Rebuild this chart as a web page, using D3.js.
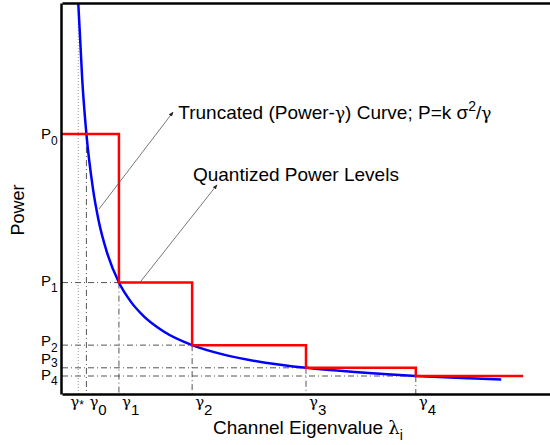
<!DOCTYPE html>
<html>
<head>
<meta charset="utf-8">
<script src="https://cdn.jsdelivr.net/npm/d3@7"></script>
<style>
  body { margin: 0; background: #fff; }
  svg { display: block; font-family: "Liberation Sans", Arial, sans-serif; }
  .greek { font-family: "DejaVu Serif", serif; }
</style>
</head>
<body>
<svg id="chart" width="550" height="445"></svg>
<script>
// threshold eigenvalues gamma_0..gamma_4 (x units)
const gammaNames = ["0", "1", "2", "3", "4"];
const gammas = [0.30, 0.70, 1.60, 3.00, 4.35];
const gammaStar = 0.20;
// quantized power levels P_0..P_4
const powerLevels = [6.65, 2.85, 1.25, 0.67, 0.46];
const stepEnd = 5.67;
const curveX = [0.20, 0.25, 0.30, 0.38, 0.45, 0.55, 0.70, 0.85, 1.00, 1.25, 1.60, 2.00, 2.50, 3.00, 3.60, 4.35, 5.00, 5.40];
const curveP = [10.0, 8.0, 6.65, 5.26, 4.44, 3.64, 2.85, 2.35, 2.00, 1.60, 1.25, 1.00, 0.80, 0.67, 0.56, 0.46, 0.40, 0.37];

const svg = d3.select("#chart");
const x = d3.scaleLinear().domain([0, 6]).range([62, 550]);
const y = d3.scaleLinear().domain([0, 10]).range([394, 3]);

const dashDot = "6,3,1,3";
const guide = svg.append("g").attr("stroke", "#555").attr("stroke-width", 1).attr("fill", "none");

// gamma* dotted line, full height
guide.append("line")
  .attr("x1", x(gammaStar)).attr("x2", x(gammaStar))
  .attr("y1", y(10)).attr("y2", y(0))
  .attr("stroke", "#999").attr("stroke-dasharray", "1,2");

// vertical dash-dot guides from each level down to the axis
gammas.forEach((g, i) => {
  guide.append("line")
    .attr("x1", x(g)).attr("x2", x(g))
    .attr("y1", y(powerLevels[i])).attr("y2", y(0))
    .attr("stroke-dasharray", dashDot);
});
// horizontal dash-dot guides from the axis to each gamma
powerLevels.forEach((p, i) => {
  if (i === 0) return;
  guide.append("line")
    .attr("x1", x(0)).attr("x2", x(gammas[i]))
    .attr("y1", y(p)).attr("y2", y(p))
    .attr("stroke-dasharray", dashDot);
});

// quantized step line
const stepPts = [[0, powerLevels[0]]];
for (let i = 1; i < gammas.length; i++) stepPts.push([gammas[i], powerLevels[i]]);
stepPts.push([stepEnd, powerLevels[powerLevels.length - 1]]);

svg.append("path")
  .datum(curveX.map((d, i) => [d, curveP[i]]))
  .attr("fill", "none").attr("stroke", "#0000ff").attr("stroke-width", 2.5)
  .attr("d", d3.line().x(d => x(d[0])).y(d => y(d[1])).curve(d3.curveMonotoneX));

svg.append("path")
  .datum(stepPts)
  .attr("fill", "none").attr("stroke", "#ff0000").attr("stroke-width", 2.5)
  .attr("d", d3.line().x(d => x(d[0])).y(d => y(d[1])).curve(d3.curveStepAfter));

// frame: left, bottom and top
svg.append("g").attr("transform", `translate(${x(0) - 1},0)`)
  .call(d3.axisLeft(y).tickValues([]).tickSizeOuter(0))
  .select(".domain").attr("stroke-width", 2.5);
svg.append("g").attr("transform", `translate(0,${y(0)})`)
  .call(d3.axisBottom(x).tickValues([]).tickSizeOuter(0))
  .select(".domain").attr("stroke-width", 2.5);
svg.append("g").attr("transform", `translate(0,${y(10)})`)
  .call(d3.axisTop(x).tickValues([]).tickSizeOuter(0))
  .select(".domain").attr("stroke-width", 2.5);

// arrows
svg.append("defs").append("marker")
  .attr("id", "ah").attr("viewBox", "0 0 10 10").attr("refX", 9).attr("refY", 5)
  .attr("markerWidth", 6).attr("markerHeight", 6).attr("orient", "auto")
  .append("path").attr("d", "M0,1L10,5L0,9Z").attr("fill", "#222");

const arrows = [
  [[0.455, 4.73], [1.365, 7.21]],
  [[0.96, 2.86], [1.906, 5.35]]
];
arrows.forEach(a => {
  svg.append("line")
    .attr("x1", x(a[0][0])).attr("y1", y(a[0][1]))
    .attr("x2", x(a[1][0])).attr("y2", y(a[1][1]))
    .attr("stroke", "#555").attr("stroke-width", 0.8)
    .attr("marker-end", "url(#ah)");
});

// annotations
const t1 = svg.append("text").attr("x", x(1.43)).attr("y", y(7.03)).attr("font-size", 19);
t1.append("tspan").text("Truncated (Power-");
t1.append("tspan").attr("class", "greek").attr("font-size", 17).text("γ");
t1.append("tspan").text(") Curve; P=k σ");
t1.append("tspan").attr("dy", -8).attr("font-size", 14).text("2");
t1.append("tspan").attr("dy", 8).text("/");
t1.append("tspan").attr("class", "greek").attr("font-size", 17).text("γ");

svg.append("text").attr("x", x(1.61)).attr("y", y(5.45)).attr("font-size", 19)
  .text("Quantized Power Levels");

// P labels
const pNudge = [5, 3, 1, -4, 4];
const pSub = [6, 6, 6, 3, 5];
powerLevels.forEach((p, i) => {
  const t = svg.append("text").attr("x", 41).attr("y", y(p) + pNudge[i]).attr("font-size", 15);
  t.append("tspan").text("P");
  t.append("tspan").attr("dy", pSub[i]).attr("font-size", 12).text(gammaNames[i]);
});

// gamma labels
const gLabels = [{ g: gammaStar, s: "*", dx: -8 }].concat(gammas.map((g, i) => ({ g: g, s: gammaNames[i], dx: 3 })));
gLabels.forEach(d => {
  const t = svg.append("text").attr("x", x(d.g) + d.dx).attr("y", 407).attr("font-size", 15);
  t.append("tspan").attr("class", "greek").text("γ");
  t.append("tspan").attr("dy", d.s === "*" ? 2 : 8).attr("font-size", d.s === "*" ? 12 : 15).text(d.s);
});

// axis titles
const xt = svg.append("text").attr("x", 213).attr("y", 434).attr("font-size", 19);
xt.append("tspan").text("Channel Eigenvalue ");
xt.append("tspan").attr("class", "greek").attr("font-size", 18).text("λ");
xt.append("tspan").attr("dy", 6).attr("font-size", 14).text("i");

svg.append("text").attr("transform", "translate(24,210) rotate(-90)")
  .attr("text-anchor", "middle").attr("font-size", 18).text("Power");
</script>
</body>
</html>
